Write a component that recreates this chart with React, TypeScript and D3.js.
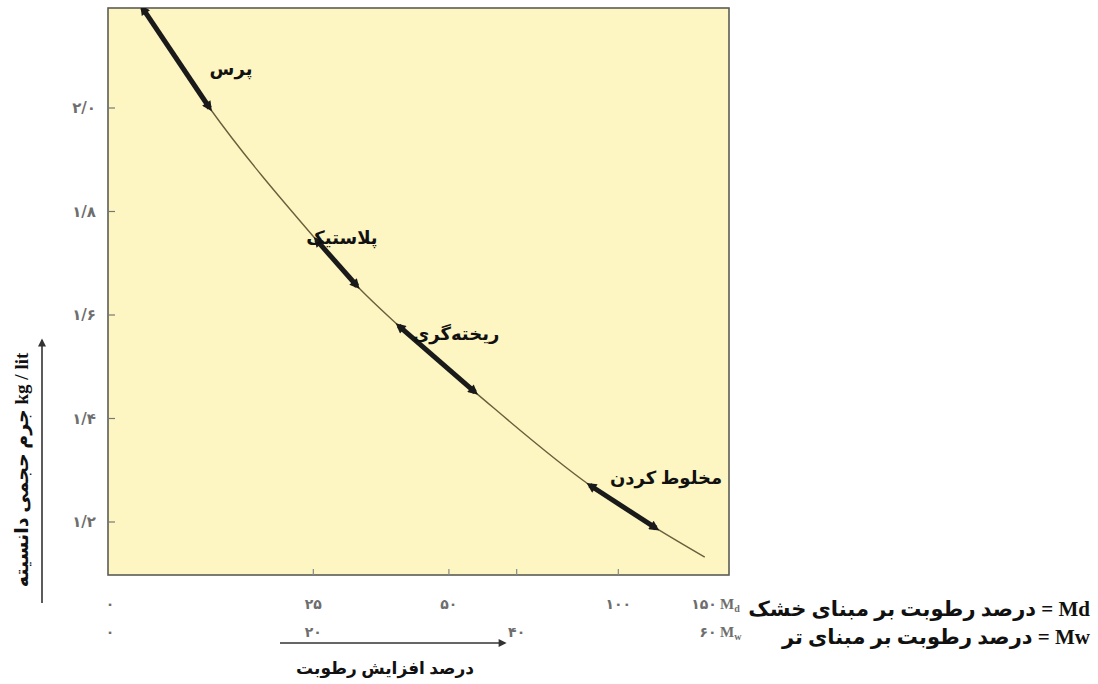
import React from 'react';
import * as d3 from 'd3';

// moisture on wet basis (%) and bulk density (kg/lit)
const moistureWet = [3.2, 9.8, 20.3, 24.3, 28.4, 35.9, 47.2, 53.7, 58.5];
const density = [2.193, 2.0, 1.745, 1.656, 1.579, 1.451, 1.271, 1.188, 1.132];

// forming ranges: start / end index into the curve points
const processNames = ['پرس', 'پلاستیک', 'ریخته‌گری', 'مخلوط کردن'];
const processStart = [0, 2, 4, 6];
const processEnd = [1, 3, 5, 7];

const yTicks = [1.2, 1.4, 1.6, 1.8, 2.0];
const yTickLabels = ['۱/۲', '۱/۴', '۱/۶', '۱/۸', '۲/۰'];

const dryTicks = [0, 25, 50, 100, 150];
const dryTickLabels = ['۰', '۲۵', '۵۰', '۱۰۰', '۱۵۰'];
const wetTicks = [0, 20, 40, 60];
const wetTickLabels = ['۰', '۲۰', '۴۰', '۶۰'];

const xTitle = 'درصد افزایش رطوبت';
const yTitle = 'kg / lit جرم حجمی دانسیته';
const legendDry = 'Md = درصد رطوبت بر مبنای خشک';
const legendWet = 'Mw = درصد رطوبت بر مبنای تر';

const W = 1098;
const H = 684;
const frame = { left: 108, right: 729, top: 8, bottom: 575 };

const persian = "'Liberation Serif', 'DejaVu Sans', serif";

export default function App() {
  const x = d3.scaleLinear().domain([0, 60]).range([110, 720]);
  const y = d3.scaleLinear().domain([1.2, 2.0]).range([522, 108]);
  // dry basis -> wet basis
  const dryToWet = (md: number) => (md / (100 + md)) * 100;

  const pts = moistureWet.map((m, i) => [m, density[i]] as [number, number]);
  const line = d3
    .line<[number, number]>()
    .x(d => x(d[0]))
    .y(d => y(d[1]))
    .curve(d3.curveMonotoneX);

  const labelPos = [
    [231, 75],
    [342, 244],
    [456, 340],
    [666, 484],
  ];

  const innerTicksX = [dryToWet(25), dryToWet(50), 40, dryToWet(100)];
  const tickFont = "'DejaVu Sans', sans-serif";

  return (
    <svg width={W} height={H} style={{ position: 'absolute', left: 0, top: 0 }}>
      <defs>
        <marker
          id="head"
          viewBox="0 0 10 10"
          refX="6"
          refY="5"
          markerWidth="12"
          markerHeight="10"
          markerUnits="userSpaceOnUse"
          orient="auto-start-reverse"
        >
          <path d="M0,0 L10,5 L0,10 z" fill="#1a1a1a" />
        </marker>
        <marker
          id="axisHead"
          viewBox="0 0 10 10"
          refX="8"
          refY="5"
          markerWidth="10"
          markerHeight="8"
          markerUnits="userSpaceOnUse"
          orient="auto"
        >
          <path d="M0,0 L10,5 L0,10 z" fill="#333" />
        </marker>
        <clipPath id="plotClip">
          <rect x={frame.left} y={frame.top} width={frame.right - frame.left} height={frame.bottom - frame.top} />
        </clipPath>
      </defs>

      <rect
        x={frame.left}
        y={frame.top}
        width={frame.right - frame.left}
        height={frame.bottom - frame.top}
        fill="#fdf6c2"
        stroke="#5c5c56"
        strokeWidth={1.6}
      />

      {/* y ticks */}
      {yTicks.map((t, i) => (
        <g key={'y' + i}>
          <line x1={frame.left} x2={frame.left + 7} y1={y(t)} y2={y(t)} stroke="#777" strokeWidth={1.2} />
          <text
            x={96}
            y={y(t) + 5}
            textAnchor="end"
            fontFamily={tickFont}
            fontWeight="bold"
            fontSize={15}
            fill="#6e6e6e"
          >
            {yTickLabels[i]}
          </text>
        </g>
      ))}

      {/* x ticks on the frame */}
      {innerTicksX.map((t, i) => (
        <line key={'xt' + i} x1={x(t)} x2={x(t)} y1={frame.bottom} y2={frame.bottom - 6} stroke="#888" strokeWidth={1.2} />
      ))}

      {/* dry basis row */}
      {dryTicks.map((t, i) => (
        <text
          key={'d' + i}
          x={i === dryTicks.length - 1 ? x(dryToWet(t)) - 16 : x(dryToWet(t))}
          y={609}
          textAnchor="middle"
          fontFamily={tickFont}
          fontWeight="bold"
          fontSize={14}
          fill="#6e6e6e"
        >
          {dryTickLabels[i]}
        </text>
      ))}
      <text x={720} y={609} fontFamily="'Liberation Serif', serif" fontWeight="bold" fontSize={15} fill="#6e6e6e">
        M<tspan fontSize={10} dy={3}>d</tspan>
      </text>

      {/* wet basis row */}
      {wetTicks.map((t, i) => (
        <text
          key={'w' + i}
          x={i === wetTicks.length - 1 ? x(t) - 12 : x(t)}
          y={637}
          textAnchor="middle"
          fontFamily={tickFont}
          fontWeight="bold"
          fontSize={14}
          fill="#6e6e6e"
        >
          {wetTickLabels[i]}
        </text>
      ))}
      <text x={720} y={637} fontFamily="'Liberation Serif', serif" fontWeight="bold" fontSize={15} fill="#6e6e6e">
        M<tspan fontSize={10} dy={3}>w</tspan>
      </text>

      {/* curve */}
      <g clipPath="url(#plotClip)">
        <path d={line(pts) || ''} fill="none" stroke="#6a5f3c" strokeWidth={1.4} />
        {processStart.map((s, i) => (
          <path
            key={'seg' + i}
            d={line(pts.slice(s, processEnd[i] + 1)) || ''}
            fill="none"
            stroke="#1a1a1a"
            strokeWidth={5}
            strokeLinecap="butt"
            markerStart="url(#head)"
            markerEnd="url(#head)"
          />
        ))}
      </g>

      {processNames.map((n, i) => (
        <text
          key={'p' + i}
          x={labelPos[i][0]}
          y={labelPos[i][1]}
          textAnchor="middle"
          fontFamily={persian}
          fontWeight="bold"
          fontSize={18}
          fill="#111"
        >
          {n}
        </text>
      ))}

      {/* x title with arrow */}
      <line x1={280} x2={505} y1={643} y2={643} stroke="#333" strokeWidth={1.6} markerEnd="url(#axisHead)" />
      <text x={385} y={674} textAnchor="middle" fontFamily={persian} fontWeight="bold" fontSize={17} fill="#111">
        {xTitle}
      </text>

      {/* y title with arrow */}
      <line x1={42} x2={42} y1={603} y2={340} stroke="#333" strokeWidth={1.6} markerEnd="url(#axisHead)" />
      <text
        transform="translate(28,470) rotate(-90)"
        textAnchor="middle"
        direction="rtl"
        fontFamily={persian}
        fontWeight="bold"
        fontSize={19}
        fill="#111"
      >
        {yTitle}
      </text>

      {/* legend */}
      <text x={1090} y={616} direction="rtl" textAnchor="start" fontFamily={persian} fontWeight="bold" fontSize={21} fill="#111">
        {legendDry}
      </text>
      <text x={1090} y={644} direction="rtl" textAnchor="start" fontFamily={persian} fontWeight="bold" fontSize={21} fill="#111">
        {legendWet}
      </text>
    </svg>
  );
}
